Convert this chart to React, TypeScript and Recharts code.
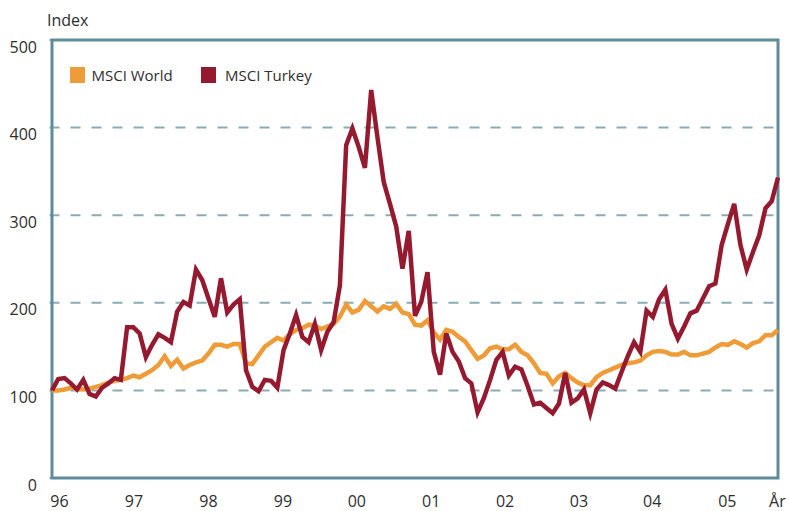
import React from 'react';
import { LineChart, Line, XAxis, YAxis, CartesianGrid, Legend, ReferenceArea } from 'recharts';

// Monthly index values (start = 100)
const WORLD: number[] = [
  100, 100, 101, 103, 102, 101, 102, 104, 106, 109, 111, 112,
  114, 117, 115, 119, 123, 129, 139, 128, 135, 125, 129, 132,
  134, 142, 152, 152, 150, 153, 153, 131, 130, 140, 150, 155,
  160, 157, 164, 169, 171, 175, 174, 170, 173, 176, 184, 198,
  189, 192, 202, 196, 190, 196, 193, 199, 189, 187, 175, 174,
  180, 166, 158, 169, 167, 161, 156, 146, 136, 140, 148, 150,
  147, 147, 152, 144, 140, 131, 120, 119, 108, 116, 120, 114,
  109, 106, 106, 115, 120, 123, 126, 129, 131, 132, 134, 140,
  144, 145, 144, 141, 141, 144, 140, 140, 142, 144, 149, 153,
  152, 156, 153, 149, 154, 156, 163, 163, 169,
];

const TURKEY: number[] = [
  100, 113, 114, 108, 101, 112, 96, 93, 103, 108, 114, 112,
  172, 172, 165, 138, 152, 164, 160, 155, 190, 201, 197, 238,
  226, 205, 184, 228, 189, 198, 204, 123, 104, 99, 112, 111,
  103, 146, 165, 186, 161, 155, 176, 146, 167, 178, 220, 380,
  399, 378, 354, 443, 389, 338, 313, 287, 239, 282, 185, 201,
  235, 144, 118, 165, 144, 133, 114, 108, 75, 91, 112, 135,
  144, 117, 127, 124, 105, 84, 86, 80, 74, 85, 120, 86,
  91, 101, 74, 101, 109, 106, 102, 121, 139, 155, 144, 191,
  184, 204, 215, 176, 159, 173, 188, 191, 205, 219, 222, 266,
  290, 313, 266, 238, 258, 277, 308, 316, 343,
];

const SERIES_NAMES = ['MSCI World', 'MSCI Turkey'];
const X_TICK_POS: number[] = [1.2, 13.1, 25.0, 36.9, 48.7, 60.6, 72.4, 84.2, 95.9, 107.9, 115.9];
const X_TICK_LABELS: string[] = ['96', '97', '98', '99', '00', '01', '02', '03', '04', '05', 'År'];
const Y_TICKS: number[] = [0, 100, 200, 300, 400, 500];
const Y_TITLE = 'Index';

const data = WORLD.map((w, i) => ({ m: i, world: w, turkey: TURKEY[i] }));

const FONT = '"Open Sans", "Noto Sans", sans-serif';
const TEXT = '#2e2e2e';
const FRAME = '#5f8c98';
const GRID = '#8aacb5';
const ORANGE = '#ef9b38';
const RED = '#951a30';

const XTick = (props: any) => {
  const { x, y, payload } = props;
  const idx = X_TICK_POS.indexOf(payload.value);
  return (
    <text x={x} y={y + 28.5} textAnchor="middle" fontSize={16} fill={TEXT} fontFamily={FONT}>
      {idx >= 0 ? X_TICK_LABELS[idx] : ''}
    </text>
  );
};

const YTick = (props: any) => {
  const { x, y, payload } = props;
  return (
    <text x={x - 12.5} y={y + 6.5} textAnchor="end" dominantBaseline="central" fontSize={16} fill={TEXT} fontFamily={FONT}>
      {payload.value}
    </text>
  );
};

const IndexLabel = () => (
  <text x={47} y={26} fontSize={16} fill={TEXT} fontFamily={FONT}>
    {Y_TITLE}
  </text>
);

const LegendContent = () => (
  <div style={{ position: 'relative', width: 300, height: 17, fontFamily: FONT, fontSize: 15, color: TEXT }}>
    <div style={{ position: 'absolute', left: 0, top: 0, width: 15, height: 16, background: ORANGE }} />
    <div style={{ position: 'absolute', left: 21.5, top: -2, lineHeight: '20px', whiteSpace: 'nowrap' }}>{SERIES_NAMES[0]}</div>
    <div style={{ position: 'absolute', left: 131, top: 0, width: 15, height: 16, background: RED }} />
    <div style={{ position: 'absolute', left: 155, top: -2, lineHeight: '20px', whiteSpace: 'nowrap' }}>{SERIES_NAMES[1]}</div>
  </div>
);

export default function App() {
  return (
    <div style={{ position: 'absolute', left: 0, top: 0, width: 789, height: 511, background: '#fff' }}>
      <LineChart width={789} height={511} data={data} margin={{ top: 40, right: 8.5, bottom: 0, left: 0 }}>
        <CartesianGrid vertical={false} stroke={GRID} strokeDasharray="10 11" strokeWidth={2} />
        <XAxis
          dataKey="m"
          type="number"
          domain={[0, 116]}
          ticks={X_TICK_POS}
          interval={0}
          padding={{ left: 2.5, right: 2.5 }}
          height={33}
          axisLine={false}
          tickLine={false}
          tickSize={0}
          tickMargin={0}
          tick={<XTick />}
        />
        <YAxis
          domain={[0, 500]}
          ticks={Y_TICKS}
          interval={0}
          width={49.5}
          axisLine={false}
          tickLine={false}
          tickSize={0}
          tickMargin={0}
          tick={<YTick />}
          label={<IndexLabel />}
        />
        <ReferenceArea y1={0} y2={500} fill="none" fillOpacity={0} stroke={FRAME} strokeWidth={3} ifOverflow="visible" />
        <Legend
          layout="horizontal"
          verticalAlign="middle"
          align="center"
          content={<LegendContent />}
          wrapperStyle={{ position: 'absolute', left: 70, top: 66.5, width: 300, height: 17 }}
        />
        <Line type="linear" dataKey="world" name={SERIES_NAMES[0]} stroke={ORANGE} strokeWidth={4.5} dot={false} activeDot={false} isAnimationActive={false} />
        <Line type="linear" dataKey="turkey" name={SERIES_NAMES[1]} stroke={RED} strokeWidth={4.5} dot={false} activeDot={false} isAnimationActive={false} />
      </LineChart>
    </div>
  );
}
